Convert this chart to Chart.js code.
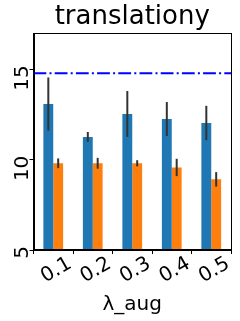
<!DOCTYPE html>
<html>
<head>
<meta charset="utf-8">
<script src="https://cdn.jsdelivr.net/npm/chart.js"></script>
<style>
  body { margin: 0; padding: 0; background: #fff; }
  canvas { display: block; }
</style>
</head>
<body>
<canvas id="chart" width="240" height="321"></canvas>
<script>
// data
const categories = ['0.1', '0.2', '0.3', '0.4', '0.5'];
const blueMeans = [13.08, 11.26, 12.53, 12.25, 12.03];
const blueErrs = [1.47, 0.27, 1.27, 0.94, 0.95];
const orangeMeans = [9.80, 9.80, 9.80, 9.57, 8.91];
const orangeErrs = [0.27, 0.30, 0.17, 0.48, 0.40];
const baseline = 14.78;
const yTicks = [5, 10, 15];

const FONT = "'DejaVu Sans', sans-serif";

// error bars, frame and the dash-dot reference line
const extras = {
  id: 'extras',
  afterDatasetsDraw(chart) {
    const ctx = chart.ctx;
    const y = chart.scales.y;
    const area = chart.chartArea;
    const errs = [blueErrs, orangeErrs];

    ctx.save();
    ctx.strokeStyle = '#333333';
    ctx.lineWidth = 2;
    chart.data.datasets.forEach((ds, di) => {
      const meta = chart.getDatasetMeta(di);
      meta.data.forEach((bar, i) => {
        const v = ds.data[i];
        const e = errs[di][i];
        ctx.beginPath();
        ctx.moveTo(bar.x, y.getPixelForValue(v - e));
        ctx.lineTo(bar.x, y.getPixelForValue(v + e));
        ctx.stroke();
      });
    });

    const by = y.getPixelForValue(baseline);
    ctx.strokeStyle = '#0000ff';
    ctx.lineWidth = 2;
    ctx.setLineDash([12.8, 3.2, 2, 3.2]);
    ctx.beginPath();
    ctx.moveTo(area.left, by);
    ctx.lineTo(area.right, by);
    ctx.stroke();
    ctx.setLineDash([]);

    ctx.strokeStyle = '#000000';
    ctx.lineWidth = 1;
    ctx.strokeRect(Math.round(area.left) + 0.5, Math.round(area.top) + 0.5,
      Math.round(area.right - area.left) - 1, Math.round(area.bottom - area.top) - 1);
    ctx.restore();
  }
};

new Chart(document.getElementById('chart'), {
  type: 'bar',
  data: {
    labels: categories,
    datasets: [
      { label: 'a', data: blueMeans, backgroundColor: '#1f77b4' },
      { label: 'b', data: orangeMeans, backgroundColor: '#ff7f0e' }
    ]
  },
  options: {
    responsive: false,
    animation: false,
    devicePixelRatio: 1,
    layout: { padding: { left: 0, right: 9, top: 0, bottom: 0 } },
    datasets: {
      bar: { categoryPercentage: 0.5, barPercentage: 1.0, borderWidth: 0 }
    },
    plugins: {
      legend: { display: false },
      tooltip: { enabled: false },
      title: {
        display: true,
        fullSize: false,
        text: 'translationy',
        color: '#000',
        font: { family: FONT, size: 26, weight: 'normal' },
        padding: { top: 2, bottom: 0 }
      }
    },
    scales: {
      x: {
        offset: true,
        grid: { display: true, drawOnChartArea: false, tickLength: 4, color: '#000' },
        border: { display: true, color: '#000' },
        ticks: {
          color: '#000',
          font: { family: FONT, size: 20 },
          autoSkip: false,
          minRotation: 30,
          maxRotation: 30,
          labelOffset: 17,
          padding: -2
        },
        title: {
          display: true,
          text: 'λ_aug',
          color: '#000',
          font: { family: FONT, size: 20 },
          padding: { top: 0, bottom: 4 }
        },
        afterFit(scale) { scale.height = 71; }
      },
      y: {
        min: 5,
        max: 17,
        grid: { display: true, drawOnChartArea: false, tickLength: 4, color: '#000' },
        border: { display: true, color: '#000' },
        afterBuildTicks(scale) { scale.ticks = yTicks.map(v => ({ value: v })); },
        ticks: {
          color: '#000',
          font: { family: FONT, size: 20 },
          minRotation: 90,
          maxRotation: 90,
          labelOffset: -4,
          padding: 7
        },
        afterFit(scale) { scale.width = 33.5; }
      }
    }
  },
  plugins: [extras]
});
</script>
</body>
</html>
